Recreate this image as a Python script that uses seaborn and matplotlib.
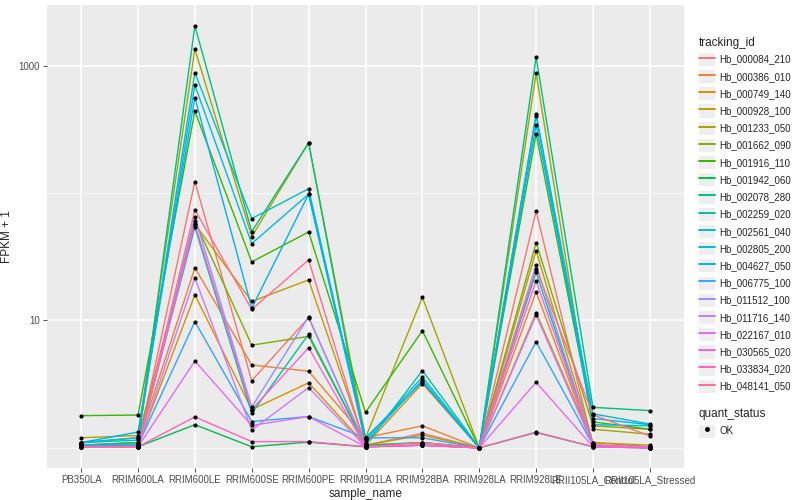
import numpy as np
import pandas as pd
import seaborn as sns
import matplotlib.pyplot as plt
from matplotlib.lines import Line2D
from matplotlib.patches import Patch
from matplotlib.legend_handler import HandlerTuple
from matplotlib.ticker import FixedLocator, NullFormatter

# amostras (eixo x)
samples = ['PB350LA', 'RRIM600LA', 'RRIM600LE', 'RRIM600SE', 'RRIM600PE', 'RRIM901LA',
           'RRIM928BA', 'RRIM928LA', 'RRIM928LE', 'RRII105LA_Control', 'RRII105LA_Stressed']

tracking_ids = ['Hb_000084_210', 'Hb_000386_010', 'Hb_000749_140', 'Hb_000928_100',
                'Hb_001233_050', 'Hb_001662_090', 'Hb_001916_110', 'Hb_001942_060',
                'Hb_002078_280', 'Hb_002259_020', 'Hb_002561_040', 'Hb_002805_200',
                'Hb_004627_050', 'Hb_006775_100', 'Hb_011512_100', 'Hb_011716_140',
                'Hb_022167_010', 'Hb_030565_020', 'Hb_033834_020', 'Hb_048141_050']

# FPKM + 1 (uma lista por gene, na ordem de samples)
hb_000084_210 = [1.05, 1.05, 123, 3.37, 10.5, 1.05, 1.30, 1.0, 72, 1.05, 1.02]
hb_000386_010 = [1.05, 1.10, 25.9, 4.47, 4.0, 1.20, 1.49, 1.0, 16.8, 1.05, 1.0]
hb_000749_140 = [1.05, 1.05, 15.9, 2.0, 3.24, 1.05, 3.2, 1.0, 11.5, 1.10, 1.02]
hb_000928_100 = [1.10, 1.20, 57, 14.1, 20.8, 1.05, 1.26, 1.0, 35.3, 1.10, 1.05]
hb_001233_050 = [1.20, 1.25, 1350, 45.5, 248, 1.20, 15.2, 1.0, 870, 1.40, 1.28]
hb_001662_090 = [1.05, 1.10, 60, 6.4, 7.5, 1.05, 1.10, 1.0, 40.8, 1.49, 1.40]
hb_001916_110 = [1.79, 1.81, 439, 28.8, 49.5, 1.90, 8.3, 1.0, 290, 1.60, 1.40]
hb_001942_060 = [1.02, 1.02, 1.52, 1.02, 1.11, 1.02, 1.05, 1.0, 1.32, 1.02, 1.0]
hb_002078_280 = [1.05, 1.10, 2050, 49.8, 248, 1.05, 1.10, 1.0, 1165, 2.08, 1.96]
hb_002259_020 = [1.05, 1.05, 54, 1.87, 7.8, 1.05, 4.04, 1.0, 23.9, 1.05, 1.0]
hb_002561_040 = [1.10, 1.15, 880, 63, 108, 1.15, 3.6, 1.0, 417, 1.85, 1.54]
hb_002805_200 = [1.10, 1.20, 702, 40.1, 98, 1.10, 3.4, 1.0, 403, 1.52, 1.49]
hb_004627_050 = [1.10, 1.33, 561, 12.5, 98, 1.20, 3.3, 1.0, 343, 1.70, 1.52]
hb_006775_100 = [1.05, 1.05, 9.8, 1.61, 1.76, 1.20, 1.20, 1.0, 6.8, 1.05, 1.0]
hb_011512_100 = [1.02, 1.02, 65, 2.09, 10.7, 1.02, 1.05, 1.0, 27.4, 1.05, 1.02]
hb_011716_140 = [1.02, 1.02, 21.6, 1.38, 2.97, 1.02, 1.05, 1.0, 11.0, 1.05, 1.02]
hb_022167_010 = [1.02, 1.02, 4.8, 1.50, 1.76, 1.02, 1.05, 1.0, 3.27, 1.02, 1.0]
hb_030565_020 = [1.02, 1.02, 57, 2.0, 6.1, 1.02, 1.05, 1.0, 20.5, 1.05, 1.0]
hb_033834_020 = [1.02, 1.02, 1.75, 1.12, 1.12, 1.02, 1.05, 1.0, 1.33, 1.02, 1.0]
hb_048141_050 = [1.02, 1.02, 73.7, 12.2, 29.9, 1.02, 1.10, 1.0, 25.5, 1.82, 1.24]

valores = [hb_000084_210, hb_000386_010, hb_000749_140, hb_000928_100, hb_001233_050,
           hb_001662_090, hb_001916_110, hb_001942_060, hb_002078_280, hb_002259_020,
           hb_002561_040, hb_002805_200, hb_004627_050, hb_006775_100, hb_011512_100,
           hb_011716_140, hb_022167_010, hb_030565_020, hb_033834_020, hb_048141_050]

# paleta hue padrao do ggplot para 20 niveis
cores = ['#F8766D', '#EA8331', '#D89000', '#C09B00', '#A3A500', '#7CAE00', '#39B600',
         '#00BB4E', '#00BF7D', '#00C1A3', '#00BFC4', '#00BAE0', '#00B0F6', '#35A2FF',
         '#9590FF', '#C77CFF', '#E76BF3', '#FA62DB', '#FF62BC', '#FF6C91']

linhas = []
for tid, vals in zip(tracking_ids, valores):
    for s, v in zip(samples, vals):
        linhas.append({'tracking_id': tid, 'sample_name': s, 'fpkm1': v})
df = pd.DataFrame(linhas)

sns.set_theme(style='darkgrid', rc={
    'axes.facecolor': '#EBEBEB',
    'grid.color': 'white',
    'axes.edgecolor': '#EBEBEB',
})
plt.rcParams['font.family'] = ['Liberation Sans', 'DejaVu Sans']

fig = plt.figure(figsize=(8, 5), dpi=100)
ax = fig.add_axes([47 / 800, 32 / 500, 637 / 800, 463 / 500])

sns.lineplot(data=df, x='sample_name', y='fpkm1', hue='tracking_id', palette=cores,
             estimator=None, sort=False, legend=False, linewidth=1, ax=ax)
sns.scatterplot(data=df, x='sample_name', y='fpkm1', color='black', s=9,
                edgecolor='black', linewidth=0, legend=False, ax=ax, zorder=5)

ax.set_yscale('log')
ax.set_ylim(0.695, 2990)
ax.set_xlim(-0.6, len(samples) - 0.4)
ax.yaxis.set_major_locator(FixedLocator([10, 1000]))
ax.yaxis.set_minor_locator(FixedLocator([1, 100]))
ax.yaxis.set_minor_formatter(NullFormatter())
ax.set_yticklabels(['10', '1000'])
ax.grid(which='major', color='white', linewidth=1.1)
ax.grid(which='minor', axis='y', color='white', linewidth=0.5)
ax.tick_params(axis='both', which='major', length=3, width=0.6, color='#333333',
               labelsize=7, labelcolor='#4D4D4D', pad=2, bottom=True, left=True)
ax.tick_params(axis='y', which='minor', length=0)
for sp in ax.spines.values():
    sp.set_visible(False)

ax.set_xlabel('sample_name', fontsize=8.5, labelpad=2)
ax.set_ylabel('FPKM + 1', fontsize=8.5, labelpad=4)

# legendas no estilo ggplot (fundo cinza claro atras de cada chave)
fundo = '#EEEEEE'
handles_id = [(Patch(facecolor=fundo, edgecolor='none'), Line2D([], [], color=c, lw=1.4))
              for c in cores]
leg1 = fig.legend(handles_id, tracking_ids, title='tracking_id', loc='upper left',
                  bbox_to_anchor=(690 / 800, 1 - 28 / 500), frameon=False, fontsize=7,
                  title_fontsize=8.5, handlelength=1.7, handleheight=1.7, labelspacing=0.42,
                  handletextpad=0.4, alignment='left',
                  handler_map={tuple: HandlerTuple(ndivide=1)})
handles_q = [(Patch(facecolor=fundo, edgecolor='none'),
              Line2D([], [], color='black', marker='o', ms=2.5, lw=0))]
leg2 = fig.legend(handles_q, ['OK'], title='quant_status', loc='upper left',
                  bbox_to_anchor=(690 / 800, 1 - 399 / 500), frameon=False, fontsize=7,
                  title_fontsize=8.5, handlelength=1.7, handleheight=1.7,
                  handletextpad=0.4, alignment='left',
                  handler_map={tuple: HandlerTuple(ndivide=1)})

fig.savefig('out.png', dpi=100)
